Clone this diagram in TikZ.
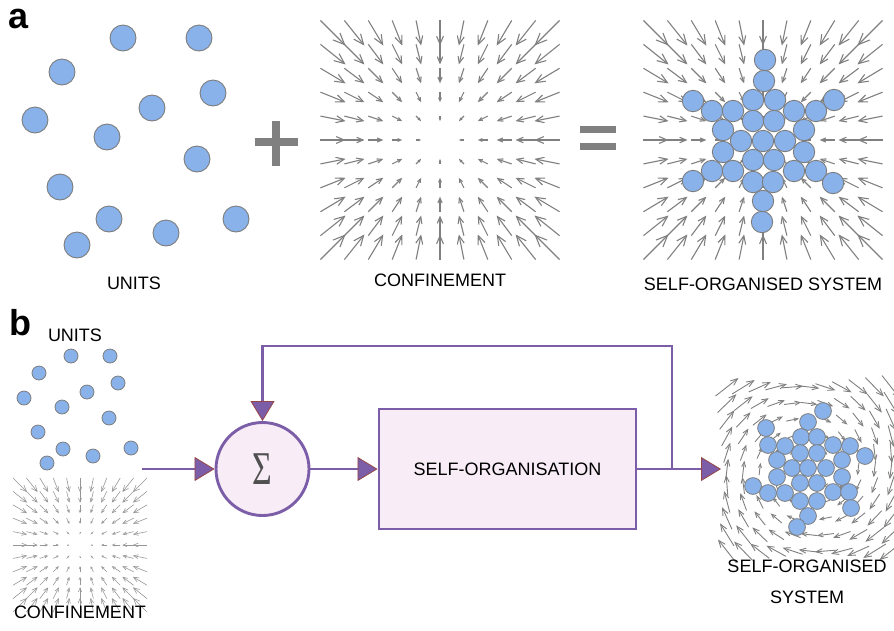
\documentclass[tikz,border=0pt]{standalone}
\usepackage{fontspec}
\setmainfont{Liberation Sans}
\newfontfamily\sigmafont{Liberation Serif}
\usetikzlibrary{arrows.meta}
\definecolor{unitblue}{RGB}{137,178,234}
\definecolor{unitedge}{RGB}{125,125,125}
\definecolor{fieldgray}{RGB}{128,128,128}
\definecolor{fieldlight}{RGB}{150,150,150}
\definecolor{vpurple}{RGB}{124,94,168}
\definecolor{vred}{RGB}{150,70,70}
\definecolor{vpink}{RGB}{248,237,247}
\definecolor{signgray}{RGB}{128,128,128}
\definecolor{sigmagray}{RGB}{80,80,80}
\tikzset{
  lab/.style={inner sep=0pt, font=\fontsize{18}{20}\selectfont},
  panellab/.style={inner sep=0pt, anchor=base west, font=\bfseries\fontsize{36}{36}\selectfont},
  unit/.style={fill=unitblue, draw=unitedge, line width=0.9pt},
  flowline/.style={draw=vpurple, line width=2.9pt},
  flow/.style={flowline, -{Triangle[length=20pt,width=24pt,fill=vpurple,color=vred,line width=0.8pt]}},
}
% confinement field: cx, cy, spacing, line width, colour
\newcommand\conffield[5]{%
  \foreach \i in {-5,...,5}{\foreach \j in {-5,...,5}{%
    \pgfmathsetmacro\ux{-0.235*\i*#3}%
    \pgfmathsetmacro\uy{-0.235*\j*#3}%
    \pgfmathsetmacro\len{sqrt(\ux*\ux+\uy*\uy)}%
    \ifdim\len pt>0.5pt
      \pgfmathsetmacro\hl{max(0.8,0.32*\len)}%
      \pgfmathsetmacro\hw{0.85*\hl}%
      \draw[draw=#5, line width=#4, -{Straight Barb[length=\hl pt, width=\hw pt]}]
        ({#1+\i*#3-\ux/2},{#2+\j*#3-\uy/2}) -- ++(\ux,\uy);
    \fi
  }}%
}
\begin{document}
\begin{tikzpicture}[x=1pt,y=-1pt]
\useasboundingbox (0,0) rectangle (894,630);

% ---------------- panel a ----------------
\node[panellab] (la) at (8,28) {a};
\foreach \x/\y in {123/38,199/38,62/72,213/93,152/108,35/120,107/137,197/159,60/187,109/219,236/219,166/233,77/245}
  \draw[unit] (\x,\y) circle (13);
\node[lab] (aunits) at (134,283) {UNITS};

% plus
\fill[signgray] (255,137.5) rectangle (298,145.5);
\fill[signgray] (272,121) rectangle (280,166);

\conffield{440}{140}{21.4}{1.1pt}{fieldgray}
\node[lab] (aconf) at (440,280) {CONFINEMENT};

% equals
\fill[signgray] (580,126) rectangle (616,132.5);
\fill[signgray] (580,143) rectangle (616,149.5);

\conffield{763}{140}{21.4}{1.1pt}{fieldgray}
\foreach \x/\y in {765/60,764/81,753/100,775/100,693/101,712/111,733/111,794/111,816/111,834/100,
  723/130,753/121,774/121,804/130,741/141,763/141,785/141,723/152,804/152,753/160,774/160,
  712/171,733/171,794/171,816/171,693/181,833/183,753/182,773/182,763/201,762/222}
  \draw[unit] (\x,\y) circle (10.7);
\node[lab] (asys) at (763,284.5) {SELF-ORGANISED SYSTEM};

% ---------------- panel b ----------------
\node[panellab] (lb) at (9,335) {b};
\node[lab] (bunits) at (75,335) {UNITS};
\foreach \x/\y in {71/356,110/356,39/373,118/383,87/392,24/398,62/407,109/418,38/432,63/449,131/448,93/456,47/463}
  \draw[unit, line width=0.8pt] (\x,\y) circle (7);
\conffield{80}{545}{12}{0.6pt}{fieldlight}
\node[lab] (bconf) at (80,612) {CONFINEMENT};

% block diagram
\node[circle, draw=vpurple, line width=2.9pt, fill=vpink, minimum size=93pt, inner sep=0pt] (sig) at (262.5,469)
  {\color{sigmagray}\scalebox{0.72}[1]{\sigmafont\fontsize{47}{47}\selectfont Σ}};
\node[draw=vpurple, line width=2.9pt, fill=vpink, minimum width=257pt, minimum height=120pt, inner sep=0pt,
  font=\fontsize{18}{20}\selectfont] (so) at (507.5,469) {SELF-ORGANISATION};
\coordinate (in) at (142,469);
\coordinate (out) at (721,469);
\coordinate (br) at (672,469);
\coordinate (fbtop) at (0,346);
\draw[flow] (in) -- (sig.west);
\draw[flow] (sig.east) -- (so.west);
\draw[flow] (so.east) -- (out);
\draw[flow] (br) -- (br |- fbtop) -| (sig.north);

% vortex field
\foreach \i in {-5,...,5}{\foreach \j in {-5,...,5}{%
  \pgfmathsetmacro\dx{\i*16.4}%
  \pgfmathsetmacro\dy{\j*16.4}%
  \pgfmathsetmacro\ux{-0.25*\dy-0.03*\dx}%
  \pgfmathsetmacro\uy{0.25*\dx-0.03*\dy}%
  \pgfmathsetmacro\len{sqrt(\ux*\ux+\uy*\uy)}%
  \ifdim\len pt>0.5pt
    \pgfmathsetmacro\hl{max(0.8,min(7,0.3*\len))}%
    \pgfmathsetmacro\hw{0.8*\hl}%
    \draw[draw=fieldgray, line width=0.9pt, -{Straight Barb[length=\hl pt, width=\hw pt]}]
      ({809+\dx-\ux/2},{469+\dy-\uy/2}) -- ++(\ux,\uy);
  \fi
}}
\foreach \x/\y in {823/411,808/422,766/428,768/445,785/446,801/437,817/437,833/445,850/446,865/456,
  800/453,817/453,777/460,842/460,792/468,808/468,826/468,777/477,842/477,800/483,817/483,
  753/486,768/493,785/493,833/492,849/492,800/501,817/501,851/508,808/516,797/527}
  \draw[unit, line width=0.8pt] (\x,\y) circle (8.4);
\node[lab] (bsys1) at (807,566) {SELF-ORGANISED};
\node[lab] (bsys2) at (807,597) {SYSTEM};
\end{tikzpicture}
\end{document}
